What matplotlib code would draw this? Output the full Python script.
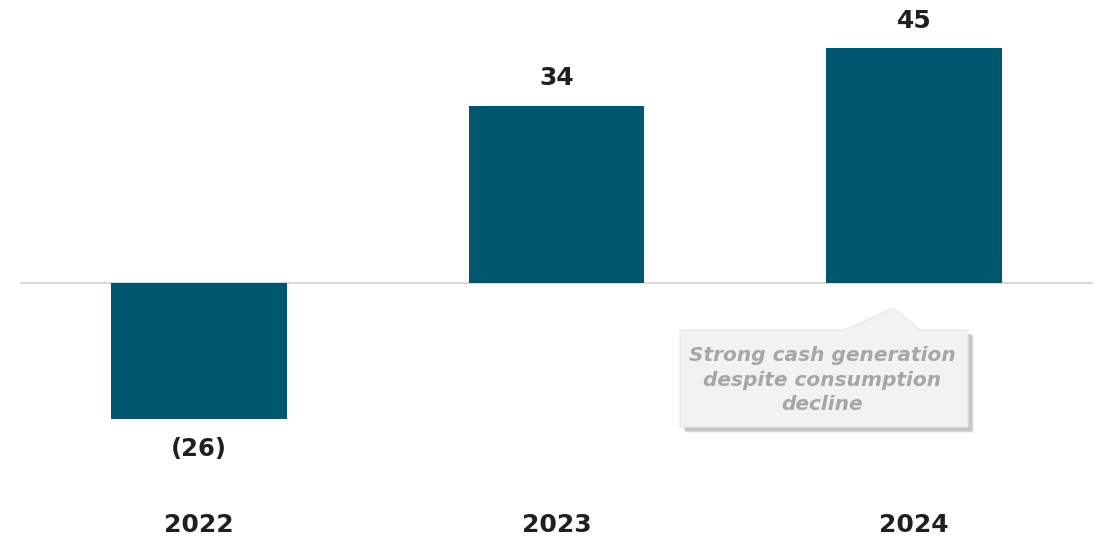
import matplotlib.pyplot as plt
from matplotlib import patches

years = ['2022', '2023', '2024']
values = [-26, 34, 45]
value_labels = ['(26)', '34', '45']
note = 'Strong cash generation\ndespite consumption\ndecline'

W, H = 1099, 540
fig = plt.figure(figsize=(W / 100, H / 100), dpi=100)
ax = fig.add_axes([0, 0, 1, 1])

# pixel -> data mapping taken from the reference layout
x_c, x_step = 199, 357.5
y0, y_scale = 283, 5.22
ax.set_xlim((0 - x_c) / x_step, (W - x_c) / x_step)
ax.set_ylim(-(H - y0) / y_scale, y0 / y_scale)
ax.axis('off')

pos = range(len(years))
ax.bar(pos, values, width=0.49, color='#00566F', zorder=2)
ax.axhline(0, xmin=21 / W, xmax=1092 / W, color='#d9d9d9', lw=1.5, zorder=1)

for i, (v, lab) in enumerate(zip(values, value_labels)):
    if v >= 0:
        ax.text(i, v + 5.2, lab, ha='center', va='center', fontsize=18,
                fontweight='bold', color='#1f1f1f')
    else:
        ax.text(i, v - 5.8, lab, ha='center', va='center', fontsize=17.5,
                fontweight='bold', color='#1f1f1f')
    ax.text(i, -46.3, years[i], ha='center', va='center', fontsize=18,
            fontweight='bold', color='#1f1f1f')


# callout box (figure pixel coords)
def fp(pts, dx=0, dy=0):
    return [((x + dx) / W, 1 - (y + dy) / H) for x, y in pts]


box = [(680, 330), (845, 330), (893, 308), (920, 330), (968, 330),
       (968, 427), (680, 427)]
for d, a in [(6, 0.15), (5, 0.25), (4, 0.35)]:
    fig.patches.append(patches.Polygon(fp(box, d, d), closed=True, transform=fig.transFigure,
                                       facecolor='#a0a0a0', edgecolor='none', alpha=a, zorder=3))
fig.patches.append(patches.Polygon(fp(box), closed=True, transform=fig.transFigure,
                                   facecolor='#f2f2f2', edgecolor='#e6e6e6', lw=0.8, zorder=4))
fig.text(822 / W, 1 - 380 / H, note, ha='center', va='center', fontsize=14.5,
         fontweight='bold', style='italic', color='#a6a6a6', linespacing=1.38, zorder=5)

fig.savefig('out.png', dpi=100)
